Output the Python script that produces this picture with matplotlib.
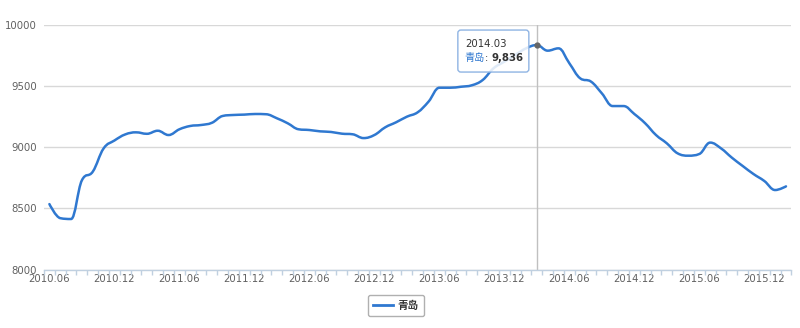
import numpy as np
import matplotlib
matplotlib.use('Agg')
import matplotlib.pyplot as plt
from matplotlib.path import Path
from matplotlib.patches import PathPatch, FancyBboxPatch
from matplotlib.lines import Line2D

plt.rcParams['font.family'] = ['DejaVu Sans', 'Noto Sans CJK SC']

# monthly categories 2010.06 .. 2016.02
months = []
for y in range(2010, 2017):
    for m in range(1, 13):
        if (y, m) >= (2010, 6) and (y, m) <= (2016, 2):
            months.append('%d.%02d' % (y, m))

series_name = '青岛'
values = [
    8535, 8420, 8413, 8730, 8800, 8990, 9055, 9105, 9122, 9110,
    9135, 9100, 9147, 9174, 9182, 9200, 9256, 9264, 9267, 9272,
    9270, 9237, 9196, 9147, 9141, 9130, 9125, 9111, 9106, 9075,
    9100, 9163, 9204, 9250, 9286, 9373, 9487, 9487, 9495, 9507,
    9550, 9646, 9700, 9755, 9809, 9836, 9790, 9809, 9687, 9564,
    9537, 9441, 9337, 9337, 9272, 9196, 9100, 9032, 8950, 8931,
    8945, 9038, 8991, 8915, 8847, 8781, 8724, 8650, 8680,
]
label_months = ['2010.06', '2010.12', '2011.06', '2011.12', '2012.06', '2012.12',
                '2013.06', '2013.12', '2014.06', '2014.12', '2015.06', '2015.12']
y_ticks = [8000, 8500, 9000, 9500, 10000]
hover_month = '2014.03'

line_color = '#2f78d0'
label_color = '#606060'
grid_color = '#d8d8d8'
axis_color = '#c0d0e0'


def spline_path(xs, ys, smoothing=1.5):
    # highcharts style spline control points
    n = len(xs)
    lcx, lcy = list(xs), list(ys)
    rcx, rcy = list(xs), list(ys)
    denom = smoothing + 1
    for i in range(1, n - 1):
        x, y = xs[i], ys[i]
        lx, ly = xs[i - 1], ys[i - 1]
        nx, ny = xs[i + 1], ys[i + 1]
        a = (smoothing * x + lx) / denom
        b = (smoothing * y + ly) / denom
        c = (smoothing * x + nx) / denom
        d = (smoothing * y + ny) / denom
        if c != a:
            corr = ((d - b) * (c - x)) / (c - a) + y - d
            b += corr
            d += corr
        if b > ly and b > y:
            b = max(ly, y)
            d = 2 * y - b
        elif b < ly and b < y:
            b = min(ly, y)
            d = 2 * y - b
        if d > ny and d > y:
            d = max(ny, y)
            b = 2 * y - d
        elif d < ny and d < y:
            d = min(ny, y)
            b = 2 * y - d
        lcx[i], lcy[i], rcx[i], rcy[i] = a, b, c, d
    verts = [(xs[0], ys[0])]
    codes = [Path.MOVETO]
    for i in range(1, n):
        verts += [(rcx[i - 1], rcy[i - 1]), (lcx[i], lcy[i]), (xs[i], ys[i])]
        codes += [Path.CURVE4] * 3
    return Path(verts, codes)


W, H = 800, 328
fig = plt.figure(figsize=(W / 100, H / 100), dpi=100)
ax = fig.add_axes([44 / W, (H - 269.5) / H, (791.4 - 44) / W, (269.5 - 25) / H])

x = np.arange(len(months))
ax.set_xlim(-0.5, len(months) - 0.5)
ax.set_ylim(8000, 10000)

for s in ['top', 'right', 'left']:
    ax.spines[s].set_visible(False)
ax.spines['bottom'].set_color(axis_color)
ax.spines['bottom'].set_linewidth(1)

ax.set_yticks(y_ticks)
ax.set_yticklabels([str(v) for v in y_ticks])
ax.yaxis.grid(True, color=grid_color, linewidth=1)
ax.set_axisbelow(True)
ax.tick_params(axis='y', length=0, pad=5, labelsize=7.3, labelcolor=label_color)

ax.set_xticks([months.index(m) for m in label_months])
ax.set_xticklabels(label_months)
ax.set_xticks(np.arange(len(months) + 1) - 0.5, minor=True)
ax.tick_params(axis='x', which='major', length=0, pad=3.5, labelsize=7.3, labelcolor=label_color)
ax.tick_params(axis='x', which='minor', length=3.6, width=1, color=axis_color)

# series line
path = spline_path(list(x.astype(float)), [float(v) for v in values])
ax.add_patch(PathPatch(path, facecolor='none', edgecolor=line_color, linewidth=1.8,
                       capstyle='round', joinstyle='round', zorder=3))

# hover crosshair + marker
hi = months.index(hover_month)
hv = values[hi]
ax.axvline(hi, color='#c0c0c0', linewidth=1, zorder=2)
ax.plot([hi], [hv], marker='o', markersize=3.5, color='#666666', zorder=4)

# tooltip
fig.canvas.draw()
renderer = fig.canvas.get_renderer()
px, py = ax.transData.transform((hi, hv))
box = FancyBboxPatch((px - 79, py - 27), 71, 42, boxstyle='round,pad=0,rounding_size=3',
                     transform=None, facecolor=(1, 1, 1, 0.85), edgecolor='#8fb4e3',
                     linewidth=1, zorder=10)
fig.patches.append(box)
tx = px - 72
t1 = fig.text(tx, py + 1, hover_month, transform=None, fontsize=7.3, color='#333333',
              va='center', ha='left', zorder=11)
t2 = fig.text(tx, py - 12.5, series_name, transform=None, fontsize=7.3, color=line_color,
              va='center', ha='left', zorder=11)
ext = t2.get_window_extent(renderer)
t3 = fig.text(ext.x1, py - 12.5, ': ', transform=None, fontsize=7.3, color='#333333',
              va='center', ha='left', zorder=11)
ext = t3.get_window_extent(renderer)
fig.text(ext.x1, py - 12.5, '{:,}'.format(hv), transform=None, fontsize=7.3,
         fontweight='bold', color='#333333', va='center', ha='left', zorder=11)

# legend
handle = Line2D([], [], color=line_color, linewidth=2)
leg = fig.legend([handle], [series_name], loc='center',
                 bbox_to_anchor=(396 / W, (H - 305.5) / H),
                 prop={'size': 7.6, 'weight': 'bold'}, handlelength=1.9,
                 handletextpad=0.4, borderpad=0.5, fancybox=True, framealpha=1)
leg.get_frame().set_edgecolor('#b0b0b0')
leg.get_frame().set_linewidth(1)
for t in leg.get_texts():
    t.set_color('#333333')

fig.savefig('out.png', dpi=100)
